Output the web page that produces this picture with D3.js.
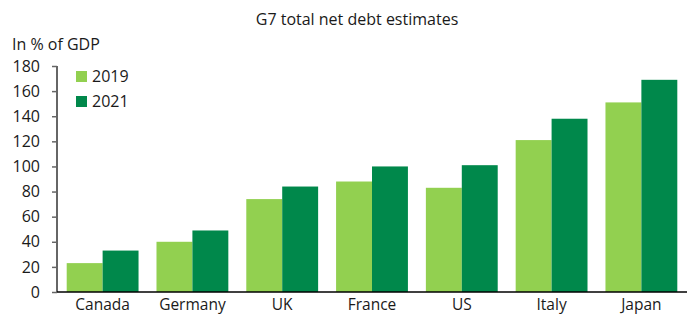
<!DOCTYPE html>
<html><head><meta charset="utf-8">
<script src="https://cdn.jsdelivr.net/npm/d3@7"></script>
<style>body{margin:0;background:#fff}svg{display:block}text{font-family:"Open Sans",sans-serif;fill:#1a1a1a}</style>
</head><body><svg id="c" width="691" height="316"></svg>
<script>
const categories = ["Canada","Germany","UK","France","US","Italy","Japan"];
const series = ["2019","2021"];
const values2019 = [23,40,74,88,83,121,151];
const values2021 = [33,49,84,100,101,138,169];
const yTicks = [0,20,40,60,80,100,120,140,160,180];
const colors = ["#92D050","#00884B"];

const svg = d3.select("#c");
const x = d3.scaleBand().domain(categories).range([57,687]).paddingInner(0.2).paddingOuter(0.108);
const xs = d3.scaleBand().domain(series).range([0,x.bandwidth()]);
const y = d3.scaleLinear().domain([0,180]).range([292,66]);

svg.append("text").attr("x",357).attr("y",25).attr("text-anchor","middle").style("font-size","16px").text("G7 total net debt estimates");
svg.append("text").attr("x",12).attr("y",50).style("font-size","16px").text("In % of GDP");

const data = [values2019, values2021];
categories.forEach((c,i)=>{
  series.forEach((s,j)=>{
    svg.append("rect").attr("x",x(c)+xs(s)).attr("width",xs.bandwidth())
      .attr("y",y(data[j][i])).attr("height",y(0)-y(data[j][i])).attr("fill",colors[j]);
  });
});

const ya = svg.append("g").attr("transform","translate(57,0)").call(d3.axisLeft(y).tickValues(yTicks).tickSize(5).tickPadding(12));
ya.select(".domain").attr("stroke","#666").attr("stroke-width",2).attr("d","M0,66V292");
ya.selectAll(".tick line").attr("stroke","#666").attr("stroke-width",1.5);
ya.selectAll(".tick text").style("font-size","16px").style("font-family","'Open Sans',sans-serif").attr("fill","#1a1a1a");

const xa = svg.append("g").attr("transform","translate(0,292)").call(d3.axisBottom(x).tickSize(0).tickPadding(7));
xa.select(".domain").attr("stroke","#000").attr("stroke-width",1.5).attr("d","M57,0H687");
xa.selectAll(".tick text").style("font-size","15.5px").style("font-family","'Open Sans',sans-serif").attr("fill","#1a1a1a");

const lg = svg.append("g");
series.forEach((s,j)=>{
  lg.append("rect").attr("x",76).attr("y",71+j*25).attr("width",11).attr("height",11).attr("fill",colors[j]);
  lg.append("text").attr("x",92).attr("y",82+j*25).style("font-size","16px").text(s);
});
</script></body></html>
